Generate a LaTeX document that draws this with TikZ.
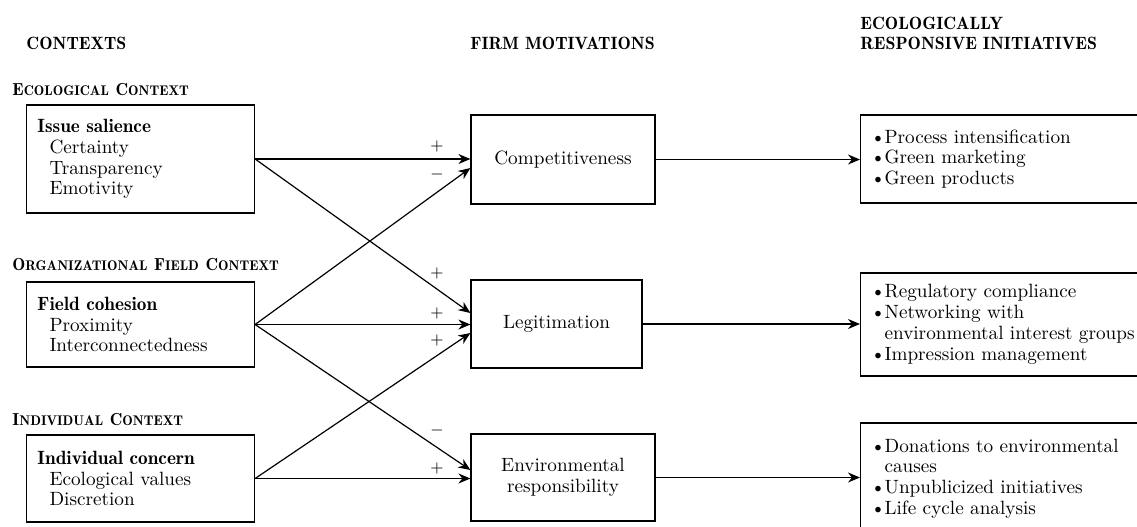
\documentclass[tikz,border=0pt]{standalone}
\usetikzlibrary{arrows.meta}
\newcommand\mysc[2]{{\fontsize{8.7}{10}\selectfont #1}{\fontsize{7.0}{8}\selectfont #2}}
\newcommand\bul{\makebox[7pt][l]{\textbullet}}
\newcommand\bulsp{\hspace*{7pt}}
\begin{document}
\begin{tikzpicture}[x=0.5pt,y=-0.5pt,
  body/.style={font=\fontsize{9.6}{10.4}\selectfont},
  hdr/.style={font=\fontsize{8.9}{10}\selectfont\fontseries{b}\selectfont, inner sep=0pt, align=left},
  ctx/.style={font=\fontseries{b}\selectfont, inner sep=0pt},
  lbox/.style={draw, line width=0.6pt, body, align=left, inner xsep=5.5pt, inner ysep=0pt, text width=103pt},
  mbox/.style={draw, line width=0.6pt, body, align=center, inner sep=0pt},
  rbox/.style={draw, line width=0.6pt, body, align=left, inner xsep=5pt, inner ysep=0pt, text width=152pt, anchor=west},
  sgn/.style={font=\fontsize{8}{8}\selectfont, inner sep=0pt},
  arr/.style={line width=0.6pt, -{Stealth[length=6pt,width=5pt]}}]
\useasboundingbox (0,0) rectangle (1137,526);

% headers
\node[hdr, anchor=west] (hc) at (26,43) {CONTEXTS};
\node[hdr, anchor=west] (hm) at (470,43) {FIRM MOTIVATIONS};
\node[hdr, anchor=west] (hr) at (860,33) {ECOLOGICALLY\\RESPONSIVE INITIATIVES};

% context labels
\node[ctx, anchor=west] (l1) at (12,90) {\mysc{E}{COLOGICAL} \mysc{C}{ONTEXT}};
\node[ctx, anchor=west] (l2) at (12,265) {\mysc{O}{RGANIZATIONAL} \mysc{F}{IELD} \mysc{C}{ONTEXT}};
\node[ctx, anchor=west] (l3) at (12,420) {\mysc{I}{NDIVIDUAL} \mysc{C}{ONTEXT}};

% left boxes
\node[lbox, minimum height=54pt] (eco) at (140.5,159) {{\fontseries{b}\selectfont Issue salience}\\\hspace*{6pt}Certainty\\\hspace*{6pt}Transparency\\\hspace*{6pt}Emotivity};
\node[lbox, minimum height=42.5pt] (field) at (140.5,324.5) {{\fontseries{b}\selectfont Field cohesion}\\\hspace*{6pt}Proximity\\\hspace*{6pt}Interconnectedness};
\node[lbox, minimum height=43.5pt] (indiv) at (140.5,478.5) {{\fontseries{b}\selectfont Individual concern}\\\hspace*{6pt}Ecological values\\\hspace*{6pt}Discretion};

% middle boxes
\node[mbox, minimum width=92pt, minimum height=44.5pt] (comp) at (563,159.5) {Competitiveness};
\node[mbox, minimum width=85.5pt, minimum height=44pt] (legit) at (556.5,324) {Legitimation};
\node[mbox, minimum width=92pt, minimum height=43.5pt] (env) at (563,477.5) {Environmental\\responsibility};

% right boxes
\node[rbox, minimum height=44pt] (r1) at (860,159) {\bul Process intensification\\\bul Green marketing\\\bul Green products};
\node[rbox, minimum height=51.5pt] (r2) at (860,324.5) {\bul Regulatory compliance\\\bul Networking with\\\bulsp environmental interest groups\\\bul Impression management};
\node[rbox, minimum height=55.5pt] (r3) at (860,478.5) {\bul Donations to environmental\\\bulsp causes\\\bul Unpublicized initiatives\\\bul Life cycle analysis};

% arrows
\draw[arr] (eco.east) -- (eco.east -| comp.west);
\draw[arr] (eco.east) -- ([yshift=5.5pt]legit.west);
\draw[arr] (field.east) -- ([yshift=-4.25pt]comp.west);
\draw[arr] (field.east) -- (field.east -| legit.west);
\draw[arr] (field.east) -- ([yshift=3.75pt]env.west);
\draw[arr] (indiv.east) -- ([yshift=-4.5pt]legit.west);
\draw[arr] (indiv.east) -- (indiv.east -| env.west);
\draw[arr] (comp.east) -- (comp.east -| r1.west);
\draw[arr] (legit.east) -- (legit.east -| r2.west);
\draw[arr] (env.east) -- (env.east -| r3.west);

% signs
\node[sgn] (s1) at (437,146) {$+$};
\node[sgn] (s2) at (437,174) {$-$};
\node[sgn] (s3) at (437,273) {$+$};
\node[sgn] (s4) at (437,313) {$+$};
\node[sgn] (s5) at (437,340) {$+$};
\node[sgn] (s6) at (437,430) {$-$};
\node[sgn] (s7) at (437,468) {$+$};
\end{tikzpicture}
\end{document}
